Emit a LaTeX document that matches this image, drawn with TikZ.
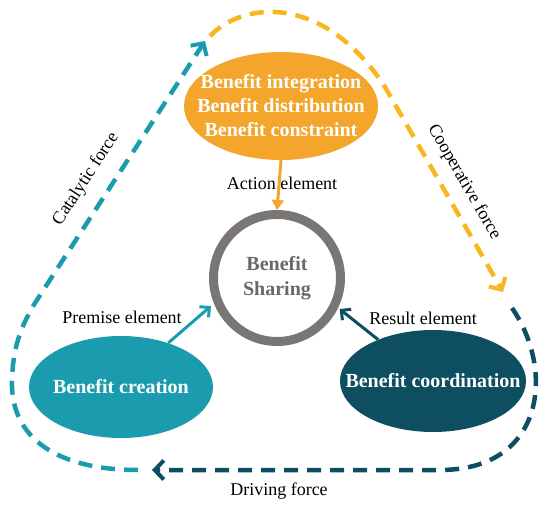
\documentclass[tikz,border=0pt]{standalone}
\usepackage{fontspec}
\setmainfont{Liberation Serif}
\usetikzlibrary{arrows.meta,shapes.geometric}
\definecolor{corange}{HTML}{F4A62C}
\definecolor{cyellow}{HTML}{F8B71E}
\definecolor{ccyan}{HTML}{1B9CAE}
\definecolor{cdark}{HTML}{0D4E60}
\definecolor{cgray}{HTML}{7A7676}
\definecolor{ctextgray}{HTML}{6B6767}
\begin{document}
\begin{tikzpicture}[x=1pt,y=-1pt,
 blob/.style={ellipse, inner sep=0pt},
 blobtext/.style={text=white, font=\fontsize{20}{24}\selectfont\bfseries, align=center, inner sep=0pt},
 lbl/.style={font=\fontsize{18}{20}\selectfont, inner sep=0pt},
 loopline/.style={line width=4.5pt, dash pattern=on 14pt off 9pt},
 barb/.style={-{Straight Barb[length=9pt,width=19pt,line width=4pt]}},
 smallbarb/.style={line width=3pt, -{Straight Barb[length=7pt,width=14pt,line width=3pt]}}
 ]
\useasboundingbox (0,0) rectangle (550,506);

% main nodes
\node[blob, fill=corange, minimum width=194pt, minimum height=108pt,
  label={[blobtext]center:{Benefit integration\\Benefit distribution\\Benefit constraint}}] (integ) at (281,106) {};
\node[circle, draw=cgray, line width=9pt, minimum size=127pt, inner sep=0pt, outer sep=4.5pt,
  text=ctextgray, font=\fontsize{20}{25}\selectfont\bfseries, align=center] (share) at (277,278)
  {Benefit\\Sharing};
\node[blob, fill=ccyan, minimum width=184pt, minimum height=102pt,
  label={[blobtext]center:Benefit creation}] (create) at (121,387) {};
\node[blob, fill=cdark, minimum width=186pt, minimum height=102pt,
  label={[blobtext]center:Benefit coordination}] (coord) at (433,381) {};

% labels
\node[lbl] (act) at (282,183) {Action element};
\node[lbl] (prem) at (122,317) {Premise element};
\node[lbl] (res) at (423,318) {Result element};
\node[lbl] (drive) at (279,491) {Driving force};
\node[lbl, rotate=57] (cata) at (86,179) {Catalytic force};
\node[lbl, rotate=-60] (coop) at (464,182) {Cooperative force};

% inner arrows
\draw[corange, line width=3pt, -{Triangle[length=10pt,width=12pt]}] (integ.south) -- (share.north);
\draw[ccyan, smallbarb, shorten >=4pt] (create.43) -- (share.202);
\draw[cdark, smallbarb, shorten >=2pt] (coord.143) -- (share.334);

% outer loop
\coordinate (cA) at (138,470);
\coordinate (cB) at (205,41);
\coordinate (oA) at (210,36);
\coordinate (oB) at (503,292);
\coordinate (dA) at (512,308);
\coordinate (dB) at (152,470);
\draw[loopline, ccyan, barb] (cA) .. controls (60,470) and (10,440) .. (12,380)
  .. controls (13,345) and (22,325) .. (35,303) -- (cB);
\draw[loopline, cyellow, barb] (oA) .. controls (245,0) and (325,-5) .. (385,87) -- (oB);
\draw[loopline, cdark, barb] (dA) .. controls (555,370) and (545,470) .. (440,470) -- (dB);
\end{tikzpicture}
\end{document}
